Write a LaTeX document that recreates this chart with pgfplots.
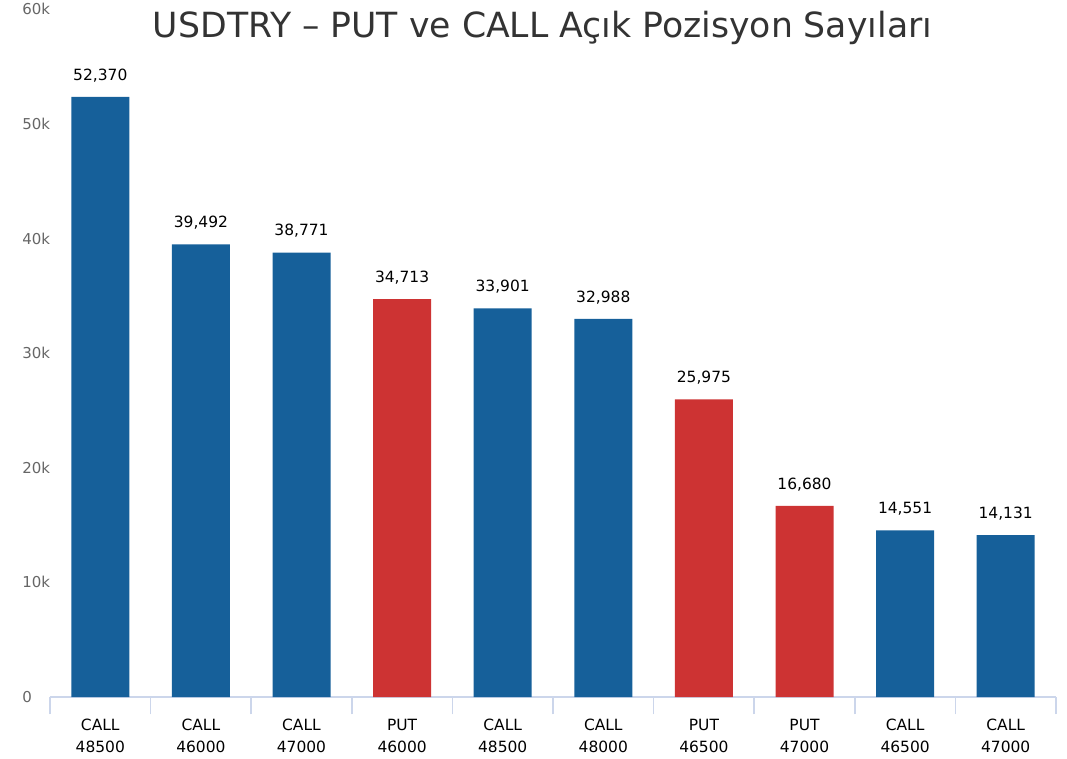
\documentclass[border=0pt]{standalone}
\usepackage{pgfplots}
\pgfplotsset{compat=1.18}
\usepackage{fontspec}
\setmainfont{DejaVu Sans}
\definecolor{callblue}{RGB}{22,96,154}
\definecolor{putred}{RGB}{205,51,51}
\definecolor{axiscol}{RGB}{204,214,235}
\definecolor{labgray}{RGB}{102,102,102}
\definecolor{titlegray}{RGB}{51,51,51}
\begin{document}
\begin{tikzpicture}
\begin{axis}[
  at={(0,0)}, anchor=south west,
  scale only axis,
  width=754.5pt, height=515.7pt,
  xmin=-0.5, xmax=9.5, ymin=0, ymax=60000,
  clip=false,
  axis x line*=bottom, axis y line*=left,
  axis line style={-},
  x axis line style={draw=axiscol, line width=1.2pt},
  y axis line style={draw=none},
  xtick={0,...,9},
  xticklabels={{CALL\\48500},{CALL\\46000},{CALL\\47000},{PUT\\46000},{CALL\\48500},{CALL\\48000},{PUT\\46500},{PUT\\47000},{CALL\\46500},{CALL\\47000}},
  minor xtick={-0.5,0.5,...,9.5},
  tick align=outside,
  major tick length=0pt,
  minor tick length=13pt,
  minor x tick style={draw=axiscol, line width=1.1pt},
  major x tick style={draw=none},
  ytick style={draw=none},
  xticklabel style={align=center, font=\fontsize{11.6}{16.5}\selectfont, text=black, inner sep=0pt, anchor=north, yshift=-16.4pt},
  ytick={0,10000,20000,30000,40000,50000,60000},
  yticklabels={0,10k,20k,30k,40k,50k,60k},
  scaled y ticks=false,
  yticklabel style={font=\fontsize{11.25}{13}\selectfont, text=labgray, anchor=west, inner sep=0pt, xshift=-21pt},
  nodes near coords,
  every node near coord/.append style={font=\fontsize{11.6}{13}\selectfont, text=black, anchor=south, inner sep=0pt, yshift=11pt},
  /pgf/number format/.cd, fixed, precision=0, 1000 sep={,}, assume math mode=true,
]
\addplot[ybar, bar width=43.5pt, bar shift=0pt, fill=callblue, draw=none]
  coordinates {(0,52370) (1,39492) (2,38771) (4,33901) (5,32988) (8,14551) (9,14131)};
\addplot[ybar, bar width=43.5pt, bar shift=0pt, fill=putred, draw=none]
  coordinates {(3,34713) (6,25975) (7,16680)};
\end{axis}
\node[anchor=base, inner sep=0pt, text=titlegray, font=\fontsize{26}{28}\selectfont] at (369.4pt,494.25pt) {USDTRY – PUT ve CALL Açık Pozisyon Sayıları};
\pgfresetboundingbox
\path (-37.5pt,-45.75pt) rectangle (762.75pt,522.75pt);
\end{tikzpicture}
\end{document}
